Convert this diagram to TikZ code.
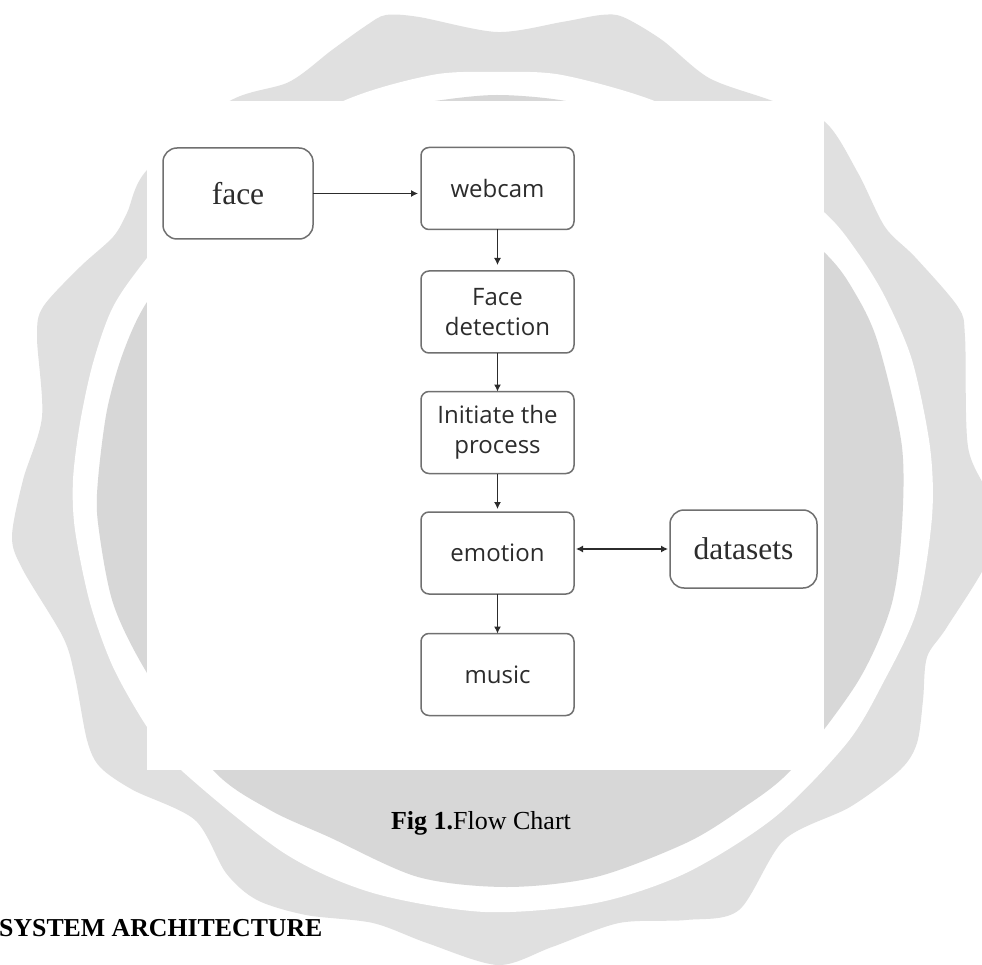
\documentclass[tikz,border=0pt]{standalone}
\usepackage{fontspec}
\setmainfont{Liberation Serif}
\newfontfamily\boxfont{Open Sans}
\usetikzlibrary{arrows.meta}
\definecolor{outerg}{HTML}{E0E0E0}
\definecolor{innerg}{HTML}{D7D7D7}
\definecolor{edgeg}{HTML}{707070}
\definecolor{inkg}{HTML}{2C2C2C}
\tikzset{
  basebox/.style={draw=edgeg,line width=1.5pt,fill=white,inner sep=0pt,outer sep=0pt,text=inkg,align=center},
  flowbox/.style={basebox,rounded corners=8pt,minimum width=153pt,minimum height=82pt,font=\boxfont\fontsize{24}{29.5}\selectfont},
  serifbox/.style={basebox,rounded corners=14pt,font=\fontsize{31.5}{36}\selectfont},
  link/.style={draw=inkg,line width=1.2pt,-{Latex[length=7pt,width=7pt]}},
  biglink/.style={draw=inkg,line width=1.2pt,{Latex[length=7pt,width=7pt]}-{Latex[length=7pt,width=7pt]}}
}
\begin{document}
\begin{tikzpicture}[x=1pt,y=-1pt]
\useasboundingbox (0,0) rectangle (982,965);
\fill[white] (0,0) rectangle (982,965);
\begin{scope}
\clip (0,0) rectangle (982,965);
% scalloped badge
\fill[outerg] plot[smooth cycle,tension=0.5] coordinates {
 (386,15) (419,17) (497,32) (562,22) (601,15) (623,17) (662,40) (709,78) (770,100)
 (825,122) (858,173) (885,227) (915,257) (958,307) (965,337) (968,447) (990,500) (990,555)
 (947,627) (927,657) (923,700) (917,743) (900,770) (850,807) (784,840) (739,910)
 (686,920) (619,923) (552,947) (498,965) (427,943) (373,923) (306,915) (257,900)
 (226,873) (195,820) (133,790) (100,767) (87,740) (75,677) (63,637) (23,570) (12,537)
 (23,480) (42,417) (37,337) (43,307) (80,267) (113,237) (127,213) (147,170) (228,102)
 (289,82) (332,50) (367,25)};
% white ring
\fill[white] plot[smooth cycle,tension=0.5] coordinates {
 (497,72) (562,75) (657,102) (745,150) (825,213) (858,253) (885,297) (912,360) (930,447)
 (932,517) (917,610) (883,683) (847,743) (775,817) (686,873) (596,903) (485,912) (373,893)
 (284,853) (181,770) (147,727) (113,667) (90,603) (75,530) (73,480) (80,423) (93,363)
 (113,307) (147,258) (220,170) (341,102) (432,75)};
% inner disk
\fill[innerg] plot[smooth cycle,tension=0.5] coordinates {
 (497,95) (571,102) (640,125) (740,180) (825,253) (855,293) (878,343) (902,447) (901,540)
 (890,610) (857,683) (791,770) (740,810) (686,843) (596,877) (507,887) (418,877) (329,837)
 (270,810) (213,770) (147,673) (113,603) (98,523) (98,480) (107,410) (123,353) (147,302)
 (200,235) (300,140) (360,115) (428,102)};
\fill[white] (147,101) rectangle (824,770);
\end{scope}
% nodes
\node[serifbox,minimum width=150pt,minimum height=91pt] (face) at (238,193.5) {\raisebox{-3pt}{face}};
\node[flowbox] (webcam) at (497.5,188.5) {webcam};
\node[flowbox] (detect) at (497.5,312) {Face\\detection};
\node[flowbox] (initiate) at (497.5,432.5) {Initiate the\\process};
\node[flowbox] (emotion) at (497.5,553) {emotion};
\node[flowbox] (music) at (497.5,674.5) {music};
\node[serifbox,minimum width=147pt,minimum height=78pt] (datasets) at (743.5,549) {\raisebox{-1.5pt}{datasets}};
% connectors
\draw[link,shorten >=3pt] (face.east) -- (face.east -| webcam.west);
\draw[link,shorten >=6pt] (webcam) -- (detect);
\draw[link] (detect) -- (initiate);
\draw[link,shorten >=3pt] (initiate) -- (emotion);
\draw[link] (emotion) -- (music);
\draw[biglink,shorten <=2pt,shorten >=2pt] (emotion.east |- datasets.west) -- (datasets.west);
% captions
\node[inner sep=0pt,anchor=base,text=black] (caption) at (481,829) {\fontsize{26}{30}\selectfont\textbf{Fig 1.}Flow Chart};
\node[inner sep=0pt,anchor=base west,text=black] (heading) at (-1,936) {\fontsize{25.8}{30}\selectfont\textbf{SYSTEM ARCHITECTURE}};
\end{tikzpicture}
\end{document}
